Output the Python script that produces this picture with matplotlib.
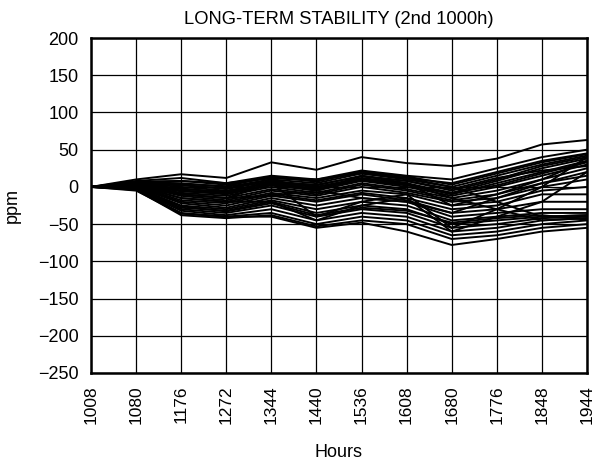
import matplotlib
matplotlib.use("Agg")
import matplotlib.pyplot as plt

plt.rcParams['font.family'] = ['Liberation Sans', 'DejaVu Sans']

hours = ["1008", "1080", "1176", "1272", "1344", "1440", "1536",
         "1608", "1680", "1776", "1848", "1944"]

# drift per device, ppm
devices = [
    [0, 10, 17, 12, 33, 23, 40, 32, 28, 38, 57, 63],
    [0, 8, 12, 5, 15, 10, 22, 15, 10, 25, 40, 50],
    [0, 7, 8, 3, 12, 8, 20, 12, 5, 20, 35, 45],
    [0, 6, 5, 0, 10, 5, 18, 10, 0, 15, 30, 42],
    [0, 5, 3, -3, 8, 2, 15, 8, -5, 10, 28, 40],
    [0, 5, 0, -5, 5, 0, 12, 5, -8, 8, 25, 38],
    [0, 4, -2, -8, 3, -3, 10, 3, -10, 5, 20, 35],
    [0, 3, -5, -10, 2, -5, 8, 0, -12, 0, 15, 30],
    [0, 3, -8, -12, 0, -8, 5, -3, -15, -5, 10, 25],
    [0, 2, -10, -15, -3, -10, 3, -5, -18, -10, 5, 20],
    [0, 2, -12, -18, -5, -12, 0, -8, -20, -15, 0, 10],
    [0, 1, -15, -20, -8, -15, -5, -10, -25, -20, -5, 0],
    [0, 1, -18, -22, -10, -18, -8, -15, -30, -25, -10, -10],
    [0, 0, -20, -25, -12, -20, -10, -18, -35, -30, -20, -20],
    [0, 0, -22, -28, -15, -25, -15, -20, -40, -35, -30, -30],
    [0, -1, -25, -30, -18, -30, -20, -25, -45, -40, -35, -35],
    [0, -2, -28, -32, -20, -35, -25, -30, -50, -45, -40, -38],
    [0, -2, -30, -35, -25, -40, -30, -35, -55, -50, -42, -40],
    [0, -3, -32, -38, -30, -45, -35, -40, -60, -55, -45, -42],
    [0, -3, -35, -40, -35, -50, -40, -45, -65, -60, -50, -45],
    [0, -4, -38, -42, -38, -53, -45, -50, -70, -65, -55, -50],
    [0, -5, -36, -40, -40, -55, -48, -60, -78, -70, -60, -55],
    [0, 5, 2, -2, 10, -5, 15, 5, -25, -10, 10, 35],
    [0, 3, -10, -15, 5, -40, -20, -10, -55, -30, 0, 40],
    [0, 6, 8, 5, 12, 10, 18, 12, 0, -20, -40, -38],
    [0, 4, -5, -8, 8, 0, 10, 5, -15, -30, -45, -42],
    [0, 2, -15, -20, -20, -45, -25, -15, -60, -40, -20, 20],
    [0, 1, -10, -15, -12, -5, -15, -20, -35, -15, 5, 15],
    [0, 6, 4, 1, 14, 7, 21, 14, 3, 18, 33, 44],
    [0, 4, -3, -6, 6, 3, 14, 8, -3, 12, 22, 28],
    [0, 3, -6, -9, 4, -2, 9, 2, -8, 2, 18, 33],
    [0, -1, -26, -33, -22, -38, -28, -32, -48, -42, -38, -44],
]

fig = plt.figure(figsize=(5.97, 4.70), dpi=100)
ax = fig.add_axes([0.1524, 0.2064, 0.8308, 0.7127])

x = list(range(len(hours)))
for d in devices:
    ax.plot(x, d, color="black", linewidth=1.4)

ax.set_xlim(0, len(hours) - 1)
ax.set_ylim(-250, 200)
ax.set_xticks(x)
ax.set_xticklabels(hours, rotation=90, fontsize=12.5)
ax.set_yticks(range(-250, 201, 50))
ax.tick_params(axis="y", labelsize=13)
ax.tick_params(length=0, pad=9)
ax.grid(True, color="black", linewidth=0.9)
for s in ax.spines.values():
    s.set_linewidth(1.8)

ax.set_title("LONG-TERM STABILITY (2nd 1000h)", fontsize=13.2, pad=10)
ax.set_xlabel("Hours", fontsize=13, labelpad=14)
ax.set_ylabel("ppm", fontsize=13, labelpad=12)

fig.savefig("out.png", dpi=100)
